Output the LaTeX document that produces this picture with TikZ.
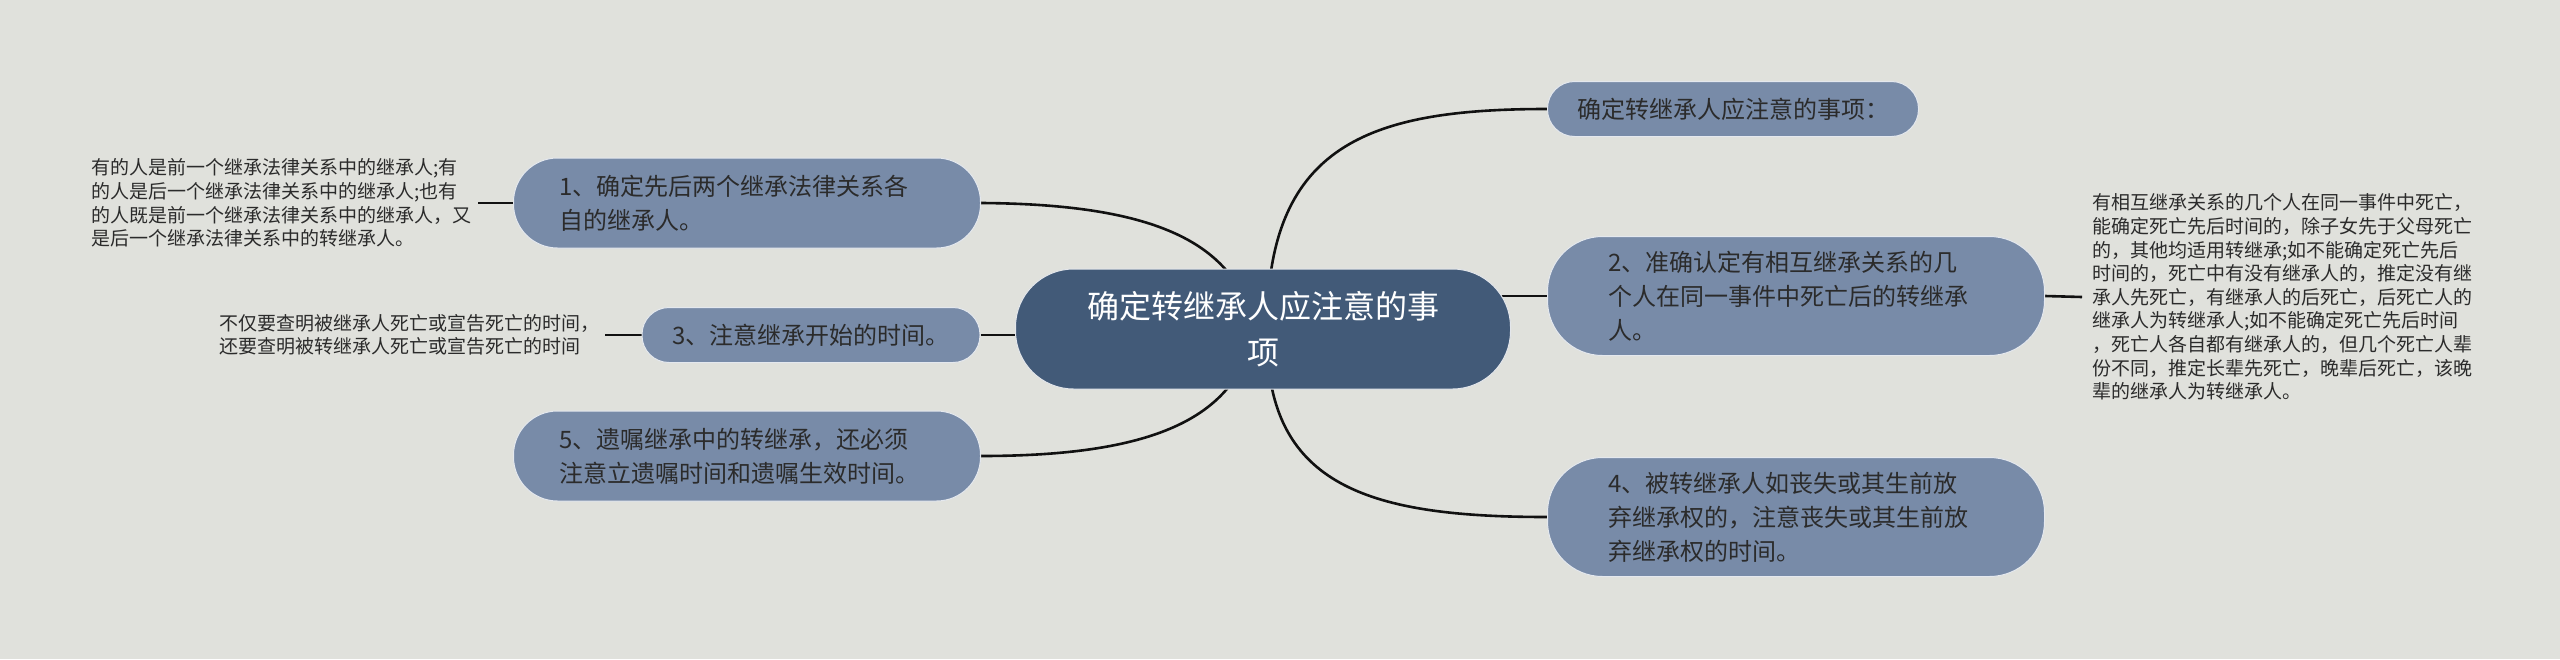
\documentclass[tikz,border=0pt]{standalone}
\usepackage{fontspec}
\newfontfamily\cjk{Noto Sans CJK SC}
\usetikzlibrary{backgrounds}
\definecolor{bgc}{HTML}{E0E1DC}
\definecolor{subc}{HTML}{788BA8}
\definecolor{mainc}{HTML}{425A78}
\definecolor{txtc}{HTML}{2B2B2B}
\definecolor{linec}{HTML}{111111}
\tikzset{
  centralnode/.style={fill=mainc, draw=white!85!mainc, line width=1pt, rounded corners=58pt,
    minimum width=495pt, minimum height=120pt, inner sep=0pt, text=white,
    font=\cjk\fontsize{32}{46}\selectfont, align=center},
  subnode/.style={fill=subc, draw=white!80!subc, line width=1pt, inner sep=0pt, text=txtc,
    font=\cjk\fontsize{24}{34}\selectfont},
  bignode/.style={subnode, minimum width=497pt, minimum height=119pt, rounded corners=55pt,
    text width=375pt, align=left},
  midnode/.style={subnode, minimum width=467pt, minimum height=90pt, rounded corners=44pt,
    text width=375pt, align=left},
  smallnode/.style={subnode, minimum height=55pt, rounded corners=27pt, align=center},
  note/.style={inner ysep=0pt, text=txtc, font=\cjk\fontsize{19}{23.6}\selectfont, align=left},
  conn/.style={draw=linec, line width=2.6pt}
}
\begin{document}
\begin{tikzpicture}[x=1pt,y=-1pt]
\useasboundingbox (0,0) rectangle (2560,659);
% nodes
\node[centralnode] (c) at (1263,329) {确定转继承人应注意的事\\项};
\node[smallnode, minimum width=371pt] (top) at (1733,109) {确定转继承人应注意的事项：};
\node[bignode] (n2) at (1796,296) {2、准确认定有相互继承关系的几\\个人在同一事件中死亡后的转继承\\人。};
\node[bignode] (n4) at (1796,517) {4、被转继承人如丧失或其生前放\\弃继承权的，注意丧失或其生前放\\弃继承权的时间。};
\node[midnode] (n1) at (747,203) {1、确定先后两个继承法律关系各\\自的继承人。};
\node[smallnode, minimum width=338pt] (n3) at (811,335) {3、注意继承开始的时间。};
\node[midnode] (n5) at (747,456) {5、遗嘱继承中的转继承，还必须\\注意立遗嘱时间和遗嘱生效时间。};
\node[note, inner xsep=7pt, anchor=west] (t1) at (84,203) {有的人是前一个继承法律关系中的继承人;有\\的人是后一个继承法律关系中的继承人;也有\\的人既是前一个继承法律关系中的继承人，又\\是后一个继承法律关系中的转继承人。};
\node[note, inner xsep=6pt, anchor=west] (t3) at (213,335) {不仅要查明被继承人死亡或宣告死亡的时间，\\还要查明被转继承人死亡或宣告死亡的时间};
\node[note, inner xsep=10pt, anchor=west] (t2) at (2082,297) {有相互继承关系的几个人在同一事件中死亡，\\能确定死亡先后时间的，除子女先于父母死亡\\的，其他均适用转继承;如不能确定死亡先后\\时间的，死亡中有没有继承人的，推定没有继\\承人先死亡，有继承人的后死亡，后死亡人的\\继承人为转继承人;如不能确定死亡先后时间\\，死亡人各自都有继承人的，但几个死亡人辈\\份不同，推定长辈先死亡，晚辈后死亡，该晚\\辈的继承人为转继承人。};
% hidden connector ends inside the central node
\coordinate (cA) at (1245,300);
\coordinate (cB) at (1268,300);
\coordinate (cC) at (1268,360);
\coordinate (cD) at (1245,360);
\begin{scope}[on background layer]
  \fill[bgc] (0,0) rectangle (2560,659);
  \draw[conn] (n1.east) .. controls (1130,204) and (1215,232) .. (cA);
  \draw[conn] (cB) .. controls (1278,140) and (1380,109) .. (top.west);
  \draw[conn] (cC) .. controls (1278,490) and (1380,517) .. (n4.west);
  \draw[conn] (n5.east) .. controls (1130,456) and (1215,428) .. (cD);
  \draw[conn] (n3.east) -- (c.center |- n3.east);
  \draw[conn] (c.center |- n2.west) -- (n2.west);
  \draw[conn] (t1.east) -- (n1.west);
  \draw[conn] (t3.east) -- (n3.west);
  \draw[conn] (n2.east) -- (t2.west);
\end{scope}
\end{tikzpicture}
\end{document}
